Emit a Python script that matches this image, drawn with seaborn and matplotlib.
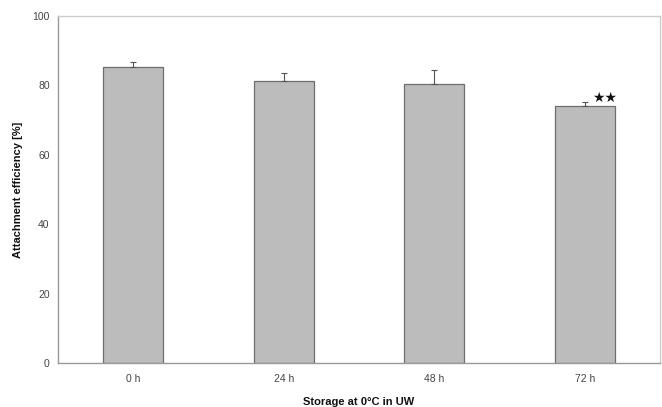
import numpy as np
import pandas as pd
import matplotlib
matplotlib.use("Agg")
import matplotlib.pyplot as plt
import seaborn as sns

# --- data ---
times = ["0 h", "24 h", "48 h", "72 h"]
efficiency = [85.3, 81.3, 80.4, 73.9]
sd_upper = [1.5, 2.2, 4.0, 1.4]
signif = ["", "", "", "★★"]

df = pd.DataFrame({"time": times, "eff": efficiency})

sns.set_style("white")
plt.rcParams["font.family"] = ["Liberation Sans", "DejaVu Sans"]

fig = plt.figure(figsize=(6.62, 4.07), dpi=100)
ax = fig.add_axes([0.0876, 0.108, 0.9094, 0.853])

sns.barplot(data=df, x="time", y="eff", color="#bcbcbc", edgecolor="#6e6e6e",
            linewidth=0.9, width=0.40, saturation=1, errorbar=None, ax=ax)

xpos = np.arange(len(times))
ax.errorbar(xpos, efficiency, yerr=[np.zeros(len(times)), sd_upper], fmt="none",
            ecolor="#555555", elinewidth=0.8, capsize=2, capthick=0.8)

for x, y, e, s in zip(xpos, efficiency, sd_upper, signif):
    if s:
        ax.text(x + 0.135, y + 0.5, s, ha="center", va="bottom", fontsize=10,
                color="#111111", family=["DejaVu Sans"])

ax.set_ylim(0, 100)
ax.set_xlim(-0.5, len(times) - 0.5)
ax.set_yticks([0, 20, 40, 60, 80, 100])
ax.set_xticks(np.arange(-0.5, len(times), 1.0), minor=True)
ax.tick_params(axis="x", which="major", length=0, labelsize=7.5, colors="#444444", pad=8)
ax.tick_params(axis="x", which="minor", length=3, color="#999999", width=0.8)
ax.tick_params(axis="y", length=3, labelsize=7.5, color="#999999", labelcolor="#444444",
               width=0.8, pad=3)

for side in ["top", "right"]:
    ax.spines[side].set_visible(True)
    ax.spines[side].set_color("#cccccc")
    ax.spines[side].set_linewidth(1.0)
for side in ["left", "bottom"]:
    ax.spines[side].set_color("#999999")
    ax.spines[side].set_linewidth(1.0)

ax.set_xlabel("Storage at 0°C in UW", fontsize=8, fontweight="bold", labelpad=9, color="#111111")
ax.set_ylabel("Attachment efficiency [%]", fontsize=8, fontweight="bold", labelpad=7, color="#111111")

fig.savefig("out.png", dpi=100)
